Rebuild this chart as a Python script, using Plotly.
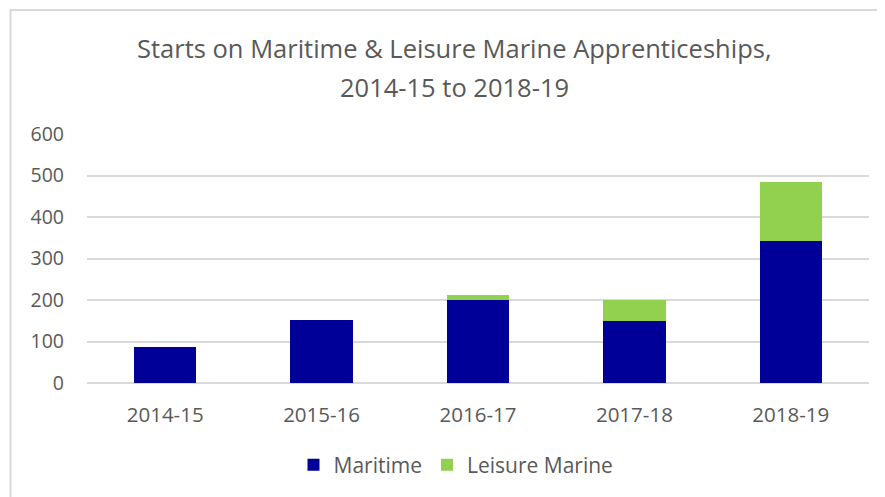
import plotly.graph_objects as go

years = ["2014-15", "2015-16", "2016-17", "2017-18", "2018-19"]
maritime = [86, 151, 201, 150, 343]
leisure_marine = [0, 0, 10, 49, 141]
y_ticks = [0, 100, 200, 300, 400, 500, 600]
title_line1 = "Starts on Maritime & Leisure Marine Apprenticeships,"
title_line2 = "2014-15 to 2018-19"

FONT = "Open Sans"
TXT = "#595959"

# page body has an 8px margin; figure sized to fill the remaining window
W, H = 877, 489
L, T, R, B = 79, 126, 16, 114

fig = go.Figure()
fig.add_trace(go.Bar(name="Maritime", x=years, y=maritime, marker_color="#000099",
                     marker_line_width=0))
fig.add_trace(go.Bar(name="Leisure Marine", x=years, y=leisure_marine, marker_color="#92D050",
                     marker_line_width=0))

ph = H - T - B
pw = W - L - R

def py(px_page_y):
    # page y pixel -> paper coordinate
    return (H - B - (px_page_y - 8)) / ph

def px(px_page_x):
    return (px_page_x - 8 - L) / pw

fig.update_layout(
    width=W, height=H,
    barmode="stack", bargap=0.6,
    paper_bgcolor="white", plot_bgcolor="white",
    margin=dict(l=L, r=R, t=T, b=B, autoexpand=False),
    font=dict(family=FONT, color=TXT, size=20),
    showlegend=True,
    legend=dict(orientation="h", x=px(456), xanchor="center", y=py(465), yanchor="middle",
                font=dict(size=21, color=TXT), traceorder="normal"),
    annotations=[
        dict(text=title_line1, xref="paper", yref="paper", x=px(454), y=py(48),
             xanchor="center", yanchor="middle", showarrow=False,
             font=dict(size=25.5, color=TXT, family=FONT)),
        dict(text=title_line2, xref="paper", yref="paper", x=px(454), y=py(87),
             xanchor="center", yanchor="middle", showarrow=False,
             font=dict(size=25.5, color=TXT, family=FONT)),
    ],
    shapes=[
        dict(type="rect", xref="paper", yref="paper", x0=px(10.5), x1=1.2, y0=-0.6, y1=py(10),
             line=dict(color="#d9d9d9", width=2), fillcolor="rgba(0,0,0,0)", layer="below"),
    ],
)
fig.update_xaxes(showgrid=False, showline=False, ticks="", tickfont=dict(size=20.5, color=TXT),
                 ticklabelstandoff=17)
fig.update_yaxes(range=[0, 600], tickvals=y_ticks, showgrid=True, gridcolor="#d9d9d9",
                 gridwidth=1.5, zeroline=True, zerolinecolor="#d9d9d9", zerolinewidth=1.5,
                 showline=False, ticks="", tickfont=dict(size=19.5, color=TXT),
                 ticklabelstandoff=22)

fig.write_html("out.html")
